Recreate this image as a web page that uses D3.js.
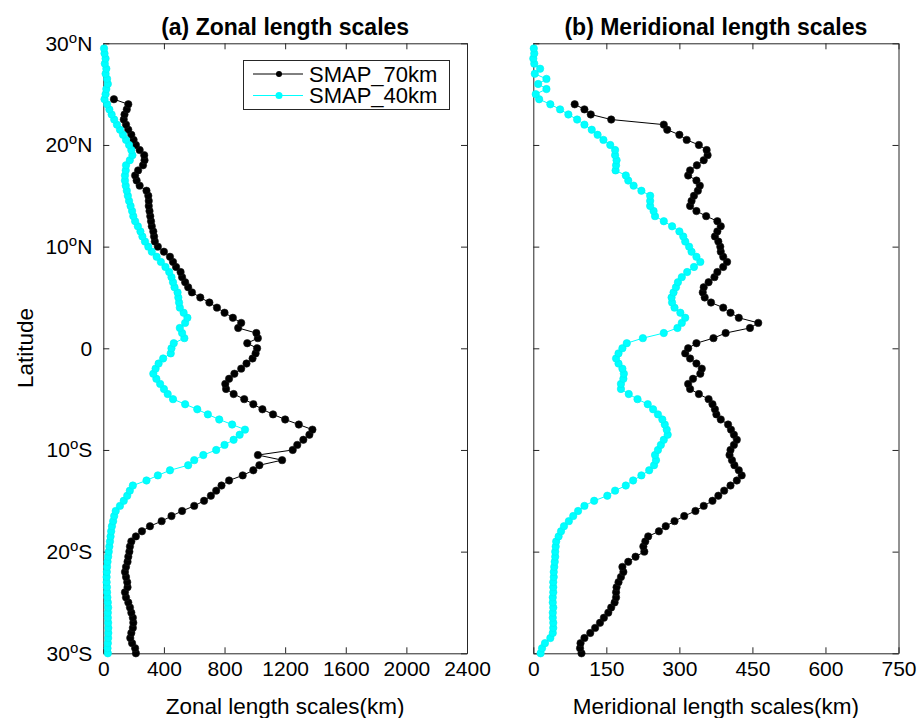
<!DOCTYPE html>
<html>
<head>
<meta charset="utf-8">
<script src="https://cdn.jsdelivr.net/npm/d3@7"></script>
<style>
  body { margin: 0; background: #fff; }
  text { font-family: "Liberation Sans", Arial, Helvetica, sans-serif; fill: #000; }
  .axis path, .axis line { stroke: #262626; stroke-width: 1; }
</style>
</head>
<body>
<div id="chart"></div>
<script>
// Set global variables (SVG dimensions)
var svgWidth = 920;
var svgHeight = 718;

// latitude grid (categories), 0.5 degree, south to north
var lats = d3.range(-30, 30, 0.5);

// zonal length scales (km), panel (a)
var zonal70 = [
  215, 210, 190, 178, 185, 195, 198, 195, 185, 176,
  165, 150, 143, 160, 158, 150, 143, 150, 160, 165,
  172, 176, 185, 215, 255, 308, 385, 450, 520, 600,
  665, 710, 745, 780, 830, 920, 990, 1030, 1180, 1020,
  1250, 1280, 1320, 1360, 1380, 1290, 1200, 1120, 1050, 990,
  930, 860, 810, 805, 830, 865, 910, 945, 985, 1005,
  1015, 950, 1020, 1010, 890, 910, 855, 800, 750, 700,
  640, 585, 560, 540, 520, 510, 480, 460, 440, 400,
  360, 340, 335, 330, 320, 315, 310, 305, 300, 300,
  297, 285, 240, 220, 210, 230, 262, 272, 270, 240,
  215, 200, 185, 165, 150, 135, 140, 155, 165, 70,
  null, null, null, null, null, null, null, null, null, null
];
var zonal40 = [
  30, 28, 30, 32, 33, 33, 32, 30, 30, 32,
  30, 27, 25, 24, 22, 22, 23, 25, 28, 32,
  36, 40, 44, 48, 52, 57, 65, 72, 82, 110,
  135, 158, 175, 195, 285, 360, 440, 560, 600, 660,
  745, 800, 860, 900, 935, 850, 765, 690, 620, 540,
  460, 425, 400, 375, 350, 330, 345, 365, 395, 445,
  450, 465, 535, 520, 505, 540, 555, 530, 505, 500,
  495, 490, 470, 460, 450, 435, 410, 380, 352, 320,
  297, 275, 258, 245, 228, 210, 198, 190, 180, 170,
  162, 155, 148, 143, 143, 148, 150, 175, 192, 185,
  170, 150, 130, 110, 90, 72, 55, 40, 25, 8,
  15, 20, 30, 25, 15, 20, 10, 15, 8, 5
];

// meridional length scales (km), panel (b)
var merid70 = [
  99, 96, 97, 105, 117, 127, 137, 145, 154, 160,
  167, 170, 170, 171, 175, 180, 185, 183, 195, 210,
  228, 226, 230, 236, 258, 272, 290, 310, 333, 350,
  368, 380, 392, 405, 418, 428, 422, 413, 408, 403,
  405, 412, 418, 412, 406, 400, 385, 376, 373, 368,
  360, 340, 322, 318, 328, 343, 346, 335, 322, 312,
  318, 335, 370, 395, 445, 462, 422, 405, 390, 365,
  352, 348, 350, 360, 372, 378, 390, 398, 390, 385,
  384, 380, 373, 378, 385, 378, 355, 335, 322, 325,
  330, 338, 342, 335, 318, 322, 336, 350, 358, 356,
  340, 315, 300, 275, 268, 160, 118, 105, 85, null,
  null, null, null, null, null, null, null, null, null, null
];
var merid40 = [
  15, 18, 24, 35, 40, 41, 41, 40, 40, 41,
  40, 40, 41, 41, 41, 42, 42, 43, 44, 45,
  45, 46, 47, 52, 57, 63, 73, 82, 92, 105,
  125, 152, 168, 190, 205, 222, 238, 248, 252, 250,
  256, 262, 268, 276, 274, 270, 265, 256, 246, 235,
  214, 196, 180, 180, 185, 186, 183, 175, 170, 175,
  183, 192, 225, 268, 296, 305, 312, 302, 290, 285,
  284, 288, 293, 297, 305, 316, 330, 343, 335, 325,
  320, 312, 308, 300, 285, 268, 250, 247, 240, 240,
  240, 222, 206, 195, 190, 169, 170, 171, 168, 168,
  158, 144, 132, 120, 105, 90, 72, 55, 35, 12,
  5, 27, 10, 27, 3, 14, 2, 0, 2, 1
];

// tick values and labels
var latTicks = [-30, -20, -10, 0, 10, 20, 30];
var zonalTicks = [0, 400, 800, 1200, 1600, 2000, 2400];
var meridTicks = [0, 150, 300, 450, 600, 750];
var seriesNames = ["SMAP_70km", "SMAP_40km"];
var seriesColors = ["#000000", "#00ffff"];

// panel geometry
var plotTop = 43.3, plotBottom = 653.3;
var panels = [
  { left: 103.3, right: 467, max: 2400, ticks: zonalTicks, s70: zonal70, s40: zonal40,
    title: "(a) Zonal length scales", xlabel: "Zonal length scales(km)", ylabels: true },
  { left: 533.3, right: 898.5, max: 750, ticks: meridTicks, s70: merid70, s40: merid40,
    title: "(b) Meridional length scales", xlabel: "Meridional length scales(km)", ylabels: false }
];

var svg = d3.select("#chart")
  .append("svg")
  .attr("width", svgWidth)
  .attr("height", svgHeight);

var yScale = d3.scaleLinear().domain([-30, 30]).range([plotBottom, plotTop]);

// latitude label with superscript "o"
function latLabel(sel) {
  sel.each(function(d) {
    var t = d3.select(this);
    t.text(null);
    if (d === 0) { t.text("0"); return; }
    t.append("tspan").text(Math.abs(d));
    t.append("tspan").attr("dy", -8).attr("font-size", 15).text("o");
    t.append("tspan").attr("dy", 8).text(d > 0 ? "N" : "S");
  });
}

panels.forEach(function(p) {
  var xScale = d3.scaleLinear().domain([0, p.max]).range([p.left, p.right]);
  var g = svg.append("g");

  // bottom axis with labels, ticks pointing inward
  var xAxis = g.append("g")
    .attr("class", "axis")
    .attr("transform", `translate(0, ${plotBottom})`)
    .call(d3.axisBottom(xScale).tickValues(p.ticks).tickFormat(d3.format("d"))
      .tickSize(-6).tickSizeOuter(0).tickPadding(8));
  xAxis.selectAll("text").attr("font-size", 21).attr("font-family", null);

  // top axis, ticks only
  g.append("g")
    .attr("class", "axis")
    .attr("transform", `translate(0, ${plotTop})`)
    .call(d3.axisTop(xScale).tickValues(p.ticks).tickSize(-6).tickSizeOuter(0).tickFormat(""));

  // left axis
  var yAxis = g.append("g")
    .attr("class", "axis")
    .attr("transform", `translate(${p.left}, 0)`)
    .call(d3.axisLeft(yScale).tickValues(latTicks).tickSize(-6).tickSizeOuter(0).tickPadding(11));
  if (p.ylabels) {
    yAxis.selectAll("text").attr("font-size", 21).attr("font-family", null).call(latLabel);
  } else {
    yAxis.selectAll("text").remove();
  }

  // right axis, ticks only
  g.append("g")
    .attr("class", "axis")
    .attr("transform", `translate(${p.right}, 0)`)
    .call(d3.axisRight(yScale).tickValues(latTicks).tickSize(-6).tickSizeOuter(0).tickFormat(""));

  // lines and markers for each series
  [p.s70, p.s40].forEach(function(vals, k) {
    var pts = lats.map((lat, i) => ({ lat: lat, v: vals[i] })).filter(d => d.v != null);
    var line = d3.line()
      .x(d => xScale(d.v))
      .y(d => yScale(d.lat));
    g.append("path")
      .datum(pts)
      .attr("fill", "none")
      .attr("stroke", seriesColors[k])
      .attr("stroke-width", 1)
      .attr("d", line);
    g.append("g").selectAll("circle")
      .data(pts)
      .enter()
      .append("circle")
      .attr("cx", d => xScale(d.v))
      .attr("cy", d => yScale(d.lat))
      .attr("r", 3.7)
      .attr("fill", seriesColors[k])
      .attr("stroke", k === 0 ? "#1a1a1a" : "#00f0f0")
      .attr("stroke-width", 0.6);
  });

  // title
  g.append("text")
    .attr("x", (p.left + p.right) / 2)
    .attr("y", 35)
    .attr("text-anchor", "middle")
    .attr("font-size", 23)
    .attr("font-weight", "bold")
    .text(p.title);

  // x label
  g.append("text")
    .attr("x", (p.left + p.right) / 2)
    .attr("y", 714)
    .attr("text-anchor", "middle")
    .attr("font-size", 22.5)
    .text(p.xlabel);
});

// y label
svg.append("text")
  .attr("transform", "translate(33, 348) rotate(-90)")
  .attr("text-anchor", "middle")
  .attr("font-size", 22.5)
  .text("Latitude");

// legend
var legend = svg.append("g");
legend.append("rect")
  .attr("x", 243.5)
  .attr("y", 60.5)
  .attr("width", 206)
  .attr("height", 49)
  .attr("fill", "#fff")
  .attr("stroke", "#262626")
  .attr("stroke-width", 1);
seriesNames.forEach(function(name, k) {
  var ly = 74 + k * 21.5;
  legend.append("line")
    .attr("x1", 253).attr("x2", 303)
    .attr("y1", ly).attr("y2", ly)
    .attr("stroke", seriesColors[k])
    .attr("stroke-width", 1);
  legend.append("circle")
    .attr("cx", 279).attr("cy", ly)
    .attr("r", k === 0 ? 3 : 3.5)
    .attr("fill", seriesColors[k]);
  legend.append("text")
    .attr("x", 309)
    .attr("y", ly + 7.5)
    .attr("font-size", 22)
    .text(name);
});
</script>
</body>
</html>
